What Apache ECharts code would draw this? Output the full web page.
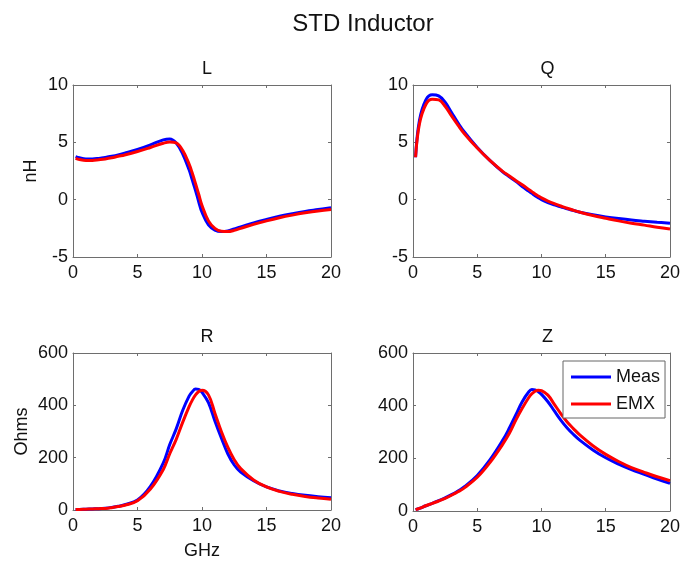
<!DOCTYPE html>
<html>
<head>
<meta charset="utf-8">
<script src="https://cdn.jsdelivr.net/npm/echarts@6/dist/echarts.min.js"></script>
<style>html,body{margin:0;padding:0;background:#fff;}#c{width:683px;height:561px;}</style>
</head>
<body>
<div id="c"></div>
<script>
var freq = [0.2,0.5,1,1.5,2,2.5,3,3.5,4,5,6,7,7.5,8,8.5,9,9.25,9.5,9.75,10,10.5,11,11.5,12,12.5,13,14,15,16,17,18,19,20];

var L_meas = [3.75,3.65,3.55,3.55,3.6,3.68,3.78,3.9,4.05,4.38,4.78,5.22,5.3,4.95,4.0,2.6,1.7,0.8,-0.2,-1.1,-2.2,-2.65,-2.78,-2.72,-2.55,-2.38,-2.02,-1.72,-1.45,-1.22,-1.02,-0.86,-0.7];
var L_emx  = [3.6,3.5,3.42,3.42,3.48,3.55,3.65,3.78,3.9,4.2,4.55,4.92,5.03,4.95,4.3,3.1,2.3,1.4,0.45,-0.5,-1.85,-2.5,-2.75,-2.78,-2.68,-2.5,-2.15,-1.85,-1.58,-1.35,-1.15,-0.98,-0.85];

var Q_meas = [3.7,6.9,8.7,9.15,9.05,8.5,7.6,6.7,5.9,4.55,3.4,2.4,2.0,1.6,1.15,0.75,0.55,0.35,0.17,0.0,-0.25,-0.45,-0.62,-0.8,-0.95,-1.1,-1.32,-1.5,-1.65,-1.78,-1.88,-1.97,-2.05];
var Q_emx  = [3.7,6.6,8.3,8.75,8.7,8.15,7.3,6.5,5.75,4.5,3.4,2.45,2.07,1.68,1.3,0.9,0.7,0.5,0.32,0.15,-0.12,-0.35,-0.55,-0.75,-0.93,-1.1,-1.38,-1.62,-1.85,-2.05,-2.22,-2.4,-2.55];

var R_meas = [2,2,3,4,5,7,10,14,20,38,90,180,250,310,380,435,452,462,461,450,410,340,275,215,172,145,112,88,73,63,56,51,47];
var R_emx  = [2,2,3,4,5,6,9,13,18,35,80,155,215,270,335,395,420,440,453,458,440,370,300,240,192,158,115,88,71,60,52,46,41];

var Z_meas = [5,10,20,29,39,50,62,76,92,135,195,270,315,365,415,452,461,460,453,443,415,380,345,315,290,268,232,202,178,157,139,121,105];
var Z_emx  = [5,10,20,29,38,48,60,73,88,128,185,255,295,345,390,430,445,455,459,457,440,405,370,338,312,288,248,215,188,165,147,130,115];

var subTitles = ['L','Q','R','Z'];
var yRanges = [[-5,10,5],[-5,10,5],[0,600,200],[0,600,200]];
var xRange = [0,20,5];
var yNames = ['nH','','Ohms',''];
var xNames = ['','','GHz',''];
var seriesNames = ['Meas','EMX'];

var FONT = "'Liberation Sans', Arial, Helvetica, sans-serif";
var grids = [
  {left:73, top:85, width:258, height:172},
  {left:413, top:85, width:259, height:172},
  {left:73, top:353, width:258, height:158},
  {left:413, top:353, width:259, height:158}
];
var lineColor = '#6e6e6e';

function pairs(ys){ return freq.map(function(f,i){ return [f, ys[i]]; }); }
var dataSets = [[L_meas,L_emx],[Q_meas,Q_emx],[R_meas,R_emx],[Z_meas,Z_emx]];

var xAxes = [], yAxes = [], series = [], titles = [];
titles.push({text:'STD Inductor', left:358, top:19, textAlign:'center', textVerticalAlign:'middle',
  textStyle:{fontFamily:FONT, fontSize:24, fontWeight:'normal', color:'#111'}});
var titleY = [64,64,332,332];
for (var g=0; g<4; g++){
  var gr = grids[g];
  titles.push({text:subTitles[g], left: gr.left + gr.width/2, top: titleY[g], textAlign:'center', textVerticalAlign:'middle',
    textStyle:{fontFamily:FONT, fontSize:18, fontWeight:'normal', color:'#111'}});
  var baseX = {type:'value', gridIndex:g, min:xRange[0], max:xRange[1], interval:xRange[2],
    axisLine:{show:true, onZero:false, lineStyle:{color:lineColor, width:1}},
    axisTick:{show:true, inside:true, length:3, lineStyle:{color:lineColor}},
    splitLine:{show:false}};
  xAxes.push(Object.assign({}, baseX, {position:'bottom',
    name:xNames[g], nameLocation:'middle', nameGap:32,
    nameTextStyle:{fontFamily:FONT, fontSize:18, color:'#111'},
    axisLabel:{show:true, margin:7, fontFamily:FONT, fontSize:18, color:'#111'}}));
  xAxes.push(Object.assign({}, baseX, {position:'top', axisLabel:{show:false}}));
  var yr = yRanges[g];
  var baseY = {type:'value', gridIndex:g, min:yr[0], max:yr[1], interval:yr[2],
    axisLine:{show:true, onZero:false, lineStyle:{color:lineColor, width:1}},
    axisTick:{show:true, inside:true, length:3, lineStyle:{color:lineColor}},
    splitLine:{show:false}};
  yAxes.push(Object.assign({}, baseY, {position:'left',
    name:yNames[g], nameLocation:'middle', nameGap:(g===0?33:42),
    nameTextStyle:{fontFamily:FONT, fontSize:18, color:'#111'},
    axisLabel:{show:true, margin:5, fontFamily:FONT, fontSize:18, color:'#111'}}));
  yAxes.push(Object.assign({}, baseY, {position:'right', axisLabel:{show:false}}));
  var cols = ['#0000ff','#ff0000'];
  for (var s=0; s<2; s++){
    series.push({type:'line', name:seriesNames[s], xAxisIndex:2*g, yAxisIndex:2*g,
      data:pairs(dataSets[g][s]), showSymbol:false, symbol:'none', smooth:0.4,
      lineStyle:{color:cols[s], width:3}, itemStyle:{color:cols[s]}, z: 2+s, animation:false});
  }
}

var chart = echarts.init(document.getElementById('c'), null, {renderer:'canvas'});
chart.setOption({
  animation:false,
  backgroundColor:'#fff',
  title:titles,
  grid:grids,
  xAxis:xAxes,
  yAxis:yAxes,
  legend:{data:seriesNames, orient:'vertical', left:563, top:361, icon:'rect', itemWidth:40, itemHeight:3, itemGap:9,
    padding:[7,5,5,8], borderColor:'#666', borderWidth:1, backgroundColor:'#fff',
    textStyle:{fontFamily:FONT, fontSize:18, lineHeight:18, color:'#111'}, selectedMode:false},
  series:series
});
</script>
</body>
</html>
